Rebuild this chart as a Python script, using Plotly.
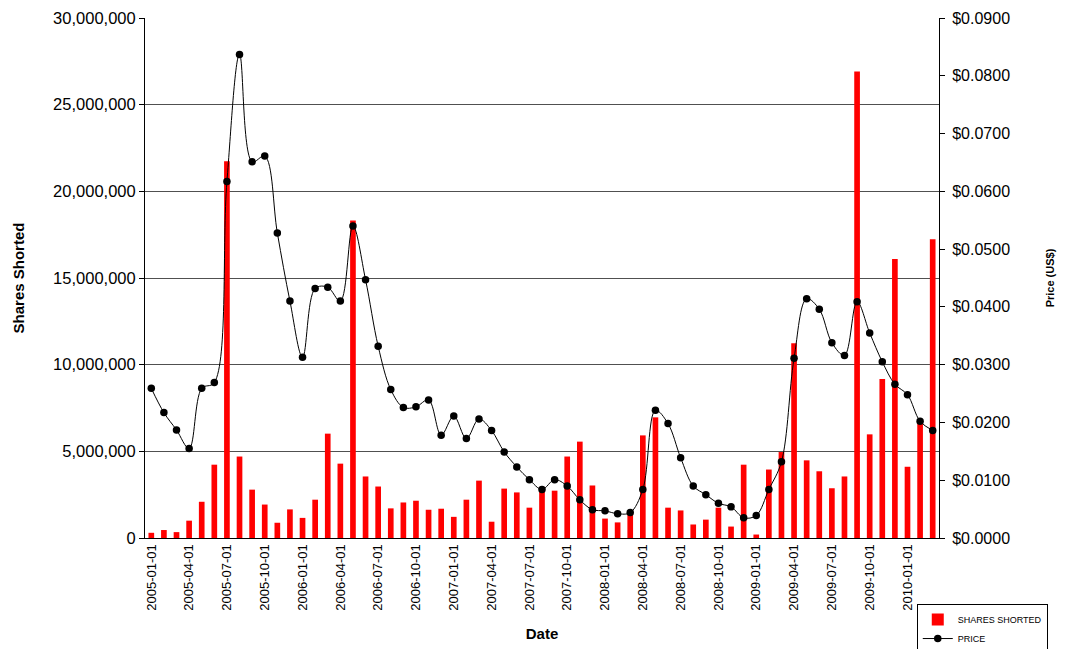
import plotly.graph_objects as go
import pandas as pd

# Monthly categories (2005-01 .. 2010-03)
dates = pd.date_range("2005-01-01", "2010-03-01", freq="MS").strftime("%Y-%m-%d").tolist()

shares_shorted = [
    300000, 460000, 340000, 1000000, 2090000, 4230000, 21730000, 4700000, 2790000, 1930000,
    880000, 1650000, 1160000, 2210000, 6020000, 4290000, 18320000, 3550000, 2970000, 1710000,
    2050000, 2150000, 1630000, 1690000, 1220000, 2210000, 3310000, 940000, 2850000, 2630000,
    1750000, 2950000, 2730000, 4700000, 5560000, 3030000, 1120000, 900000, 1500000, 5920000,
    6960000, 1750000, 1590000, 780000, 1060000, 1750000, 660000, 4230000, 200000, 3950000,
    4960000, 11240000, 4480000, 3850000, 2870000, 3550000, 26910000, 5980000, 9170000, 16090000,
    4110000, 6800000, 17240000,
]

price = [
    0.0259, 0.0217, 0.0187, 0.0155, 0.0259, 0.0269, 0.0617, 0.0837, 0.0651, 0.0661,
    0.0528, 0.0410, 0.0313, 0.0432, 0.0434, 0.0410, 0.0540, 0.0447, 0.0332, 0.0257,
    0.0226, 0.0227, 0.0239, 0.0178, 0.0211, 0.0172, 0.0206, 0.0186, 0.0149, 0.0123,
    0.0101, 0.0084, 0.0101, 0.0090, 0.0066, 0.0049, 0.0047, 0.0042, 0.0044, 0.0084,
    0.0221, 0.0198, 0.0139, 0.0090, 0.0075, 0.0060, 0.0054, 0.0035, 0.0039, 0.0084,
    0.0132, 0.0311, 0.0414, 0.0396, 0.0338, 0.0316, 0.0409, 0.0355, 0.0305, 0.0266,
    0.0248, 0.0202, 0.0186,
]

tick_labels = dates[::3]

n = len(dates)
x_range = [-0.5, n - 0.5]
bottom_tick_pos = [i - 0.5 for i in range(0, n + 1, 3)]
top_tick_pos = [i - 0.5 for i in range(0, n + 1, 2)]

FONT = "Liberation Sans, Arial, sans-serif"

fig = go.Figure()
fig.add_trace(go.Bar(
    x=dates, y=shares_shorted, name="SHARES SHORTED",
    marker=dict(color="#FF0000", line=dict(width=0)),
    xaxis="x", yaxis="y",
))
fig.add_trace(go.Scatter(
    x=dates, y=price, name="PRICE", mode="lines+markers",
    line=dict(color="black", width=1, shape="spline", smoothing=1),
    marker=dict(color="black", size=7.5),
    xaxis="x", yaxis="y2",
))

fig.update_layout(
    width=1069, height=649,
    margin=dict(l=137, r=138, t=10, b=119, autoexpand=False),
    plot_bgcolor="white", paper_bgcolor="white",
    bargap=0.55,
    font=dict(family=FONT, color="#000000"),
    showlegend=True,
    legend=dict(
        x=0.972, y=-0.127, xanchor="left", yanchor="top",
        bordercolor="black", borderwidth=1, bgcolor="white",
        font=dict(size=9, family=FONT), tracegroupgap=0,
    ),
    xaxis=dict(
        type="category", range=x_range,
        tickmode="array", tickvals=tick_labels, ticktext=tick_labels,
        tickangle=-90, ticks="", tickfont=dict(size=13),
        showline=True, linecolor="black", linewidth=1,
        showgrid=False, zeroline=False,
        title=dict(text="<b>Date</b>", font=dict(size=15), standoff=18),
    ),
    xaxis2=dict(
        overlaying="x", anchor="y", side="bottom", range=x_range,
        tickmode="array", tickvals=bottom_tick_pos,
        ticks="outside", ticklen=5, tickcolor="black", tickwidth=1,
        showticklabels=False, showgrid=False, zeroline=False, showline=False,
    ),
    xaxis3=dict(
        overlaying="x", anchor="y", side="top", range=x_range,
        tickmode="array", tickvals=top_tick_pos,
        ticks="outside", ticklen=4, tickcolor="#888888", tickwidth=1,
        showticklabels=False, showgrid=False, zeroline=False,
        showline=True, linecolor="#888888", linewidth=1,
    ),
    yaxis=dict(
        range=[0, 30000000], dtick=5000000, tick0=0, tickformat=",",
        tickfont=dict(size=16.5), ticks="outside", ticklen=5, tickcolor="black",
        showline=True, linecolor="black", linewidth=1,
        showgrid=True, gridcolor="#505050", gridwidth=1.4, zeroline=False,
        title=dict(text="<b>Shares Shorted</b>", font=dict(size=15), standoff=24),
    ),
    yaxis2=dict(
        overlaying="y", side="right", anchor="x",
        range=[0, 0.09], dtick=0.01, tick0=0, tickformat="$.4f",
        tickfont=dict(size=16), ticks="outside", ticklen=5, tickcolor="black",
        ticklabelstandoff=4,
        showline=True, linecolor="black", linewidth=1,
        showgrid=False, zeroline=False,
        title=dict(text="<b>Price (US$)</b>", font=dict(size=11), standoff=37),
    ),
)

fig.write_html("out.html")
